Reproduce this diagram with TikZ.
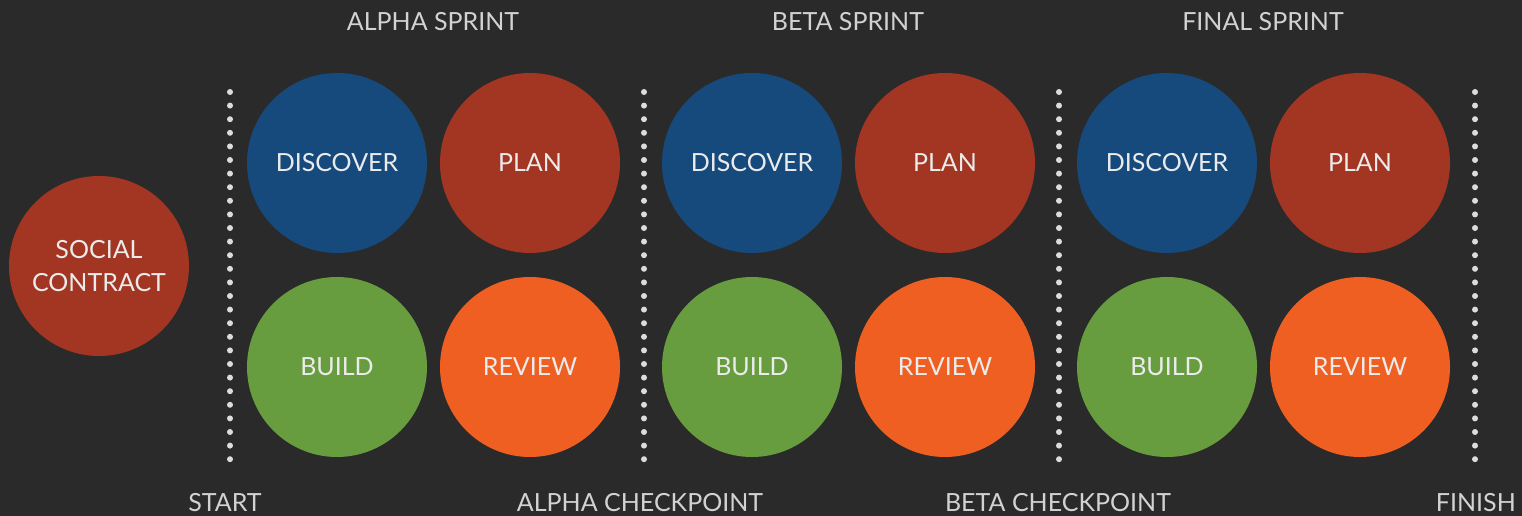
\documentclass[tikz,border=0pt]{standalone}
\usepackage{fontspec}
\setmainfont{Lato}
\usepackage{tikz}
\usetikzlibrary{positioning}

\definecolor{bgdark}{HTML}{2A2A2A}
\definecolor{labelgrey}{HTML}{D2D2D2}
\definecolor{dotgrey}{HTML}{DCDCDC}
\definecolor{discoverblue}{HTML}{174A7C}
\definecolor{planred}{HTML}{A23623}
\definecolor{buildgreen}{HTML}{679C3F}
\definecolor{revieworange}{HTML}{F05F22}

\tikzset{
  phase/.style = {circle, minimum size=180pt, inner sep=0pt, text=white!92!black,
                  font=\fontsize{25}{30}\selectfont, align=center},
  caption/.style = {text=labelgrey, font=\fontsize{25}{30}\selectfont}
}

\begin{document}
\begin{tikzpicture}[x=1pt, y=-1pt]
      \fill [bgdark] (0,0) rectangle (1522,516);
      \useasboundingbox (0,0) rectangle (1522,516);
      % kick-off
      \node [phase, fill=planred] (contract) at (99,266) {SOCIAL\\[3pt]CONTRACT};
      % checkpoints
      \foreach \x in {230, 644, 1059, 1475}{
        \foreach \k in {0,...,27}{
          \fill [dotgrey] (\x, 92 + 13.6*\k) circle [radius = 3];
        }
      }
      \node [caption] (start) at (225,503) {START};
      \node [caption] (alphacheck) at (640,503) {ALPHA CHECKPOINT};
      \node [caption] (betacheck) at (1058,503) {BETA CHECKPOINT};
      \node [caption, anchor=east, inner xsep=0pt] (finish) at (1516,503) {FINISH};
      % sprints
      \foreach \name/\dx/\title in {alpha/0/ALPHA SPRINT, beta/415/BETA SPRINT, final/830/FINAL SPRINT}{
        \begin{scope}[shift = {(\dx,0)}]
          \node [caption] (\name-title) at (433,22) {\title};
          \node [phase, fill=discoverblue] (\name-discover) at (337,163) {DISCOVER};
          \node [phase, fill=planred] (\name-plan) at (530,163) {PLAN};
          \node [phase, fill=buildgreen] (\name-build) at (337,367) {BUILD};
          \node [phase, fill=revieworange] (\name-review) at (530,367) {REVIEW};
        \end{scope}
      }
    \end{tikzpicture}
\end{document}
